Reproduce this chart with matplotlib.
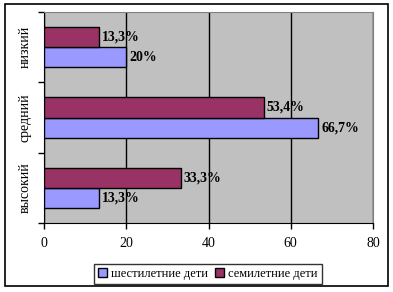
import matplotlib
matplotlib.use("Agg")
import matplotlib.pyplot as plt
import numpy as np
from matplotlib.patches import Rectangle

categories = ["высокий", "средний", "низкий"]
six_year = [13.3, 66.7, 20]
seven_year = [33.3, 53.4, 13.3]
six_labels = ["13,3%", "66,7%", "20%"]
seven_labels = ["33,3%", "53,4%", "13,3%"]

plt.rcParams['font.family'] = ['Liberation Serif', 'DejaVu Serif']

fig = plt.figure(figsize=(3.93, 2.92), dpi=100)
fig.patches.append(Rectangle((5 / 393, 1 - 286 / 292), 383 / 393, 282 / 292,
                             transform=fig.transFigure, fill=False,
                             edgecolor='black', linewidth=1.2))
ax = fig.add_axes([44 / 393, 1 - 223 / 292, 329 / 393, 211 / 292])
ax.set_facecolor('#C0C0C0')

y = np.arange(len(categories))
h = 0.2857
ax.barh(y - h / 2, six_year, h, color='#9999FF', edgecolor='black', linewidth=1,
        label='шестилетние дети', zorder=3)
ax.barh(y + h / 2, seven_year, h, color='#993366', edgecolor='black', linewidth=1,
        label='семилетние дети', zorder=3)

for i in range(len(categories)):
    ax.text(six_year[i] + 0.7, y[i] - h / 2, six_labels[i], va='center', ha='left',
            fontsize=10, fontweight='bold', zorder=4)
    ax.text(seven_year[i] + 0.7, y[i] + h / 2, seven_labels[i], va='center', ha='left',
            fontsize=10, fontweight='bold', zorder=4)

ax.set_xlim(0, 80)
ax.set_ylim(-0.5, 2.5)
ax.set_xticks([0, 20, 40, 60, 80])
ax.set_yticks([-0.5, 0.5, 1.5, 2.5])
ax.set_yticklabels([])
ax.set_yticks(y, minor=True)
ax.set_yticklabels(categories, minor=True, rotation=90, va='center', fontsize=10)
ax.tick_params(axis='y', which='minor', length=0, pad=9)
ax.tick_params(axis='y', which='major', length=4, direction='out', width=1)
ax.tick_params(axis='x', length=4, direction='out', width=1, labelsize=10, pad=6)
ax.grid(axis='x', color='black', linewidth=1, zorder=1)
for s in ['top', 'right']:
    ax.spines[s].set_color('#808080')
for s in ['left', 'bottom']:
    ax.spines[s].set_color('black')

leg = fig.legend(loc='center', bbox_to_anchor=(208 / 393, 1 - 274 / 292), ncol=2,
                 fontsize=9, frameon=True, fancybox=False, edgecolor='black',
                 handlelength=0.7, handleheight=0.7, handletextpad=0.3,
                 columnspacing=0.6, borderpad=0.35)
leg.get_frame().set_linewidth(1)

fig.savefig('out.png', dpi=100)
